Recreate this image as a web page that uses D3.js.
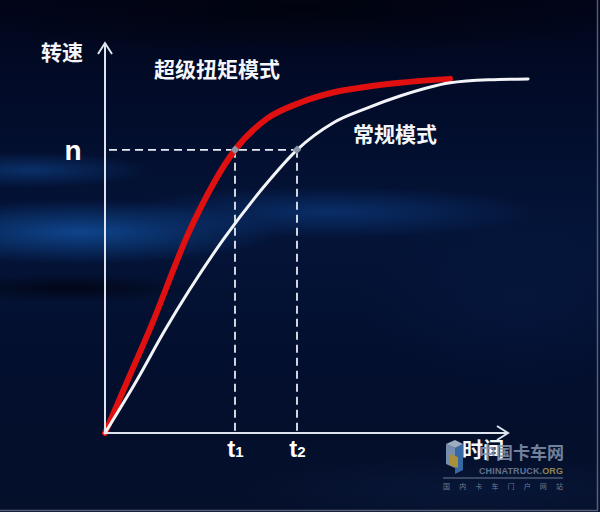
<!DOCTYPE html>
<html><head><meta charset="utf-8">
<script src="https://cdn.jsdelivr.net/npm/d3@7/dist/d3.min.js"></script>
<style>html,body{margin:0;padding:0;background:#030b22;}svg{display:block;}</style>
</head><body>
<svg id="c" width="600" height="512"></svg>
<script>
// ---- data ----
const superTime  = [0, 6.25, 11.25, 21.25, 32.5, 40.5, 48.75, 57, 65.5, 73.75, 86.25];
const superSpeed = [0, 14.9, 26.7, 52.1, 72.6, 80.6, 84.7, 87.3, 88.8, 89.8, 90.8];
const normTime   = [0, 8, 15, 29.5, 40.5, 48, 57, 65.5, 73.75, 86.25, 96.25, 105.75];
const normSpeed  = [0, 13.6, 26.4, 49.5, 64.1, 72.6, 79.5, 83.3, 86.4, 89.8, 90.6, 90.8];
const nLevel = 72.6;
const tMarks = [32.5, 48];
const tLabels = [["t","1"],["t","2"]];
const yLabel = "转速", xLabel = "时间", nLabel = "n";
const seriesLabels = ["超级扭矩模式", "常规模式"];

const svg = d3.select("#c");
const W = 600, H = 512;
const defs = svg.append("defs");

// background
const bg = defs.append("linearGradient").attr("id","bg").attr("x1",0).attr("y1",0).attr("x2",0).attr("y2",1);
[[0,"#01051a"],[0.2,"#020c2a"],[0.45,"#041438"],[0.7,"#030f2e"],[1,"#050f2a"]].forEach(s=>bg.append("stop").attr("offset",s[0]).attr("stop-color",s[1]));
svg.append("rect").attr("width",W).attr("height",H).attr("fill","url(#bg)");
const glows = [
  {cx:80, cy:232, rx:200, ry:32, c:"#1150a0", o:0.8},
  {cx:330, cy:212, rx:210, ry:26, c:"#0d4088", o:0.6},
  {cx:30, cy:170, rx:120, ry:18, c:"#0d3d80", o:0.7},
  {cx:70, cy:288, rx:130, ry:14, c:"#000410", o:0.8},
  {cx:300, cy:10, rx:360, ry:45, c:"#000209", o:0.7},
  {cx:520, cy:300, rx:160, ry:90, c:"#071841", o:0.6},
  {cx:470, cy:490, rx:240, ry:35, c:"#0a1b3f", o:0.6}
];
glows.forEach((g,i)=>{
  const rg = defs.append("radialGradient").attr("id","g"+i);
  rg.append("stop").attr("offset",0).attr("stop-color",g.c).attr("stop-opacity",g.o);
  rg.append("stop").attr("offset",1).attr("stop-color",g.c).attr("stop-opacity",0);
});
svg.append("g").selectAll("ellipse").data(glows).join("ellipse")
  .attr("cx",d=>d.cx).attr("cy",d=>d.cy).attr("rx",d=>d.rx).attr("ry",d=>d.ry)
  .attr("fill",(d,i)=>`url(#g${i})`);

// scales
const x = d3.scaleLinear().domain([0,100]).range([105,505]);
const y = d3.scaleLinear().domain([0,100]).range([433,43]);

const axisColor = "#dfe5f0";
// dashed guides
const dash = svg.append("g").attr("stroke","#e6ebf3").attr("stroke-width",1.8).attr("stroke-dasharray","8,5").attr("fill","none");
dash.append("line").attr("x1",x(0)+4).attr("x2",x(tMarks[1])).attr("y1",y(nLevel)).attr("y2",y(nLevel));
tMarks.forEach(t=>dash.append("line").attr("x1",x(t)).attr("x2",x(t)).attr("y1",y(nLevel)).attr("y2",y(0)));

// curves
const line = d3.line().x(d=>x(d[0])).y(d=>y(d[1])).curve(d3.curveMonotoneX);
const redPts = superTime.map((t,i)=>[t,superSpeed[i]]);
const whitePts = normTime.map((t,i)=>[t,normSpeed[i]]);
svg.append("path").datum(redPts).attr("d",line).attr("fill","none").attr("stroke","#e01010").attr("stroke-width",6).attr("stroke-linecap","round");
svg.append("path").datum(whitePts).attr("d",line).attr("fill","none").attr("stroke","#f2f4f8").attr("stroke-width",3).attr("stroke-linecap","round");

// intersection markers
svg.selectAll("rect.mk").data(tMarks).join("rect").attr("class","mk")
  .attr("x",d=>x(d)-3).attr("y",y(nLevel)-3).attr("width",6).attr("height",6)
  .attr("fill","#8797a8").attr("transform",d=>`rotate(45,${x(d)},${y(nLevel)})`);

// axes
const xAxis = d3.axisBottom(x).tickValues(tMarks).tickSize(0).tickPadding(10).tickFormat("");
const gx = svg.append("g").attr("transform",`translate(0,${y(0)})`).call(xAxis);
gx.select(".domain").remove();
const yAxis = d3.axisLeft(y).tickValues([nLevel]).tickSize(0).tickFormat("");
const gy = svg.append("g").attr("transform",`translate(${x(0)},0)`).call(yAxis);
gy.select(".domain").remove();

svg.append("line").attr("x1",x(0)).attr("x2",508).attr("y1",y(0)).attr("y2",y(0)).attr("stroke",axisColor).attr("stroke-width",2);
svg.append("line").attr("x1",x(0)).attr("x2",x(0)).attr("y1",y(0)+1).attr("y2",y(100)).attr("stroke",axisColor).attr("stroke-width",2);
svg.append("path").attr("d",`M${x(0)-7},${y(100)+11}L${x(0)},${y(100)}L${x(0)+7},${y(100)+11}`).attr("fill","none").attr("stroke",axisColor).attr("stroke-width",2);
svg.append("path").attr("d",`M497,${y(0)-7}L508,${y(0)}L497,${y(0)+7}`).attr("fill","none").attr("stroke",axisColor).attr("stroke-width",2);

const cjk = "'Noto Sans CJK SC','Noto Sans CJK JP',sans-serif";
// tick labels t1 t2
gx.selectAll(".tick").each(function(d,i){
  const tx = d3.select(this).select("text").attr("fill","#ffffff").attr("font-family","'Liberation Sans',Arial,sans-serif")
    .attr("font-weight","bold").attr("font-size",24).attr("y",null).attr("dy",null)
    .attr("transform","translate(0,24)").attr("text-anchor","middle");
  tx.text(null);
  tx.append("tspan").text(tLabels[i][0]);
  tx.append("tspan").attr("font-size",15).attr("dy",0).text(tLabels[i][1]);
});
gy.selectAll(".tick text").attr("fill","#ffffff").attr("font-family","'Liberation Sans',Arial,sans-serif")
  .attr("font-weight","bold").attr("font-size",28).attr("x",-32).attr("dy","0.35em").attr("text-anchor","middle").text(nLabel);

// labels
const txt = (s,xx,yy,anchor,size)=>svg.append("text").attr("x",xx).attr("y",yy).attr("text-anchor",anchor||"start")
  .attr("font-family",cjk).attr("font-weight","bold").attr("font-size",size||21).attr("fill","#f4f6fa").text(s);
txt(yLabel,62,60,"middle",21);
txt(seriesLabels[0],154,77,"start",21);
txt(seriesLabels[1],353,142,"start",21);
txt(xLabel,462,457,"start",21);

// watermark
const wm = svg.append("g").attr("opacity",0.85);
wm.append("polygon").attr("points","455,448 463,444 463,470 455,474").attr("fill","#3f78b8");
wm.append("polygon").attr("points","455,448 446,444 446,464 455,468").attr("fill","#8aa4c4");
wm.append("polygon").attr("points","446,444 455,440 463,444 455,448").attr("fill","#b7c8dc");
wm.append("polygon").attr("points","450,454 458,457 458,468 450,465").attr("fill","#c9a73a");
wm.append("text").attr("x",479).attr("y",459).attr("font-family",cjk).attr("font-weight","bold").attr("font-size",17).attr("fill","#8496b0").text("中国卡车网");
const ct = wm.append("text").attr("x",479).attr("y",474).attr("font-family","'Liberation Sans',Arial,sans-serif").attr("font-weight","bold").attr("font-size",9).attr("fill","#73849c").attr("textLength",84);
ct.append("tspan").text("CHINATRUCK.");
ct.append("tspan").attr("fill","#a89a5a").text("ORG");
wm.append("line").attr("x1",443).attr("x2",563).attr("y1",478).attr("y2",478).attr("stroke","#7f8fa3").attr("stroke-width",1.2);
wm.append("text").attr("x",443).attr("y",489).attr("font-family",cjk).attr("font-size",7).attr("fill","#7f8fa3").attr("textLength",120).text("国内卡车门户网站");

// faint border
svg.append("path").attr("d",`M0,${H-1.5}H${W-2.5}V0`).attr("fill","none").attr("stroke","#8a93a6").attr("stroke-width",1.5).attr("opacity",0.6);
</script>
</body></html>
